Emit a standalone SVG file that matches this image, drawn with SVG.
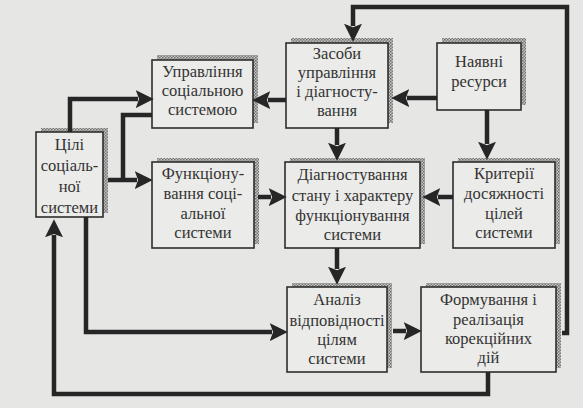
<svg xmlns="http://www.w3.org/2000/svg" width="583" height="408" viewBox="0 0 583 408">
<defs>
<pattern id="dots" width="3" height="3" patternUnits="userSpaceOnUse">
<rect width="3" height="3" fill="#c4c4c2"/>
<rect width="1.5" height="1.5" fill="#6e6e6e"/>
<rect x="1.5" y="1.5" width="1.5" height="1.5" fill="#7a7a7a"/>
</pattern>
<marker id="ah" markerUnits="userSpaceOnUse" markerWidth="18" markerHeight="18" viewBox="0 0 16 16" refX="2" refY="8" orient="auto">
<path d="M0,0 L16,8 L0,16 L3,8 z" fill="#262626"/>
</marker>
<style>
.sh{fill:url(#dots)}
.bx{fill:#ebebe9;stroke:#2e2e2e;stroke-width:1.6}
.t{font-family:"Liberation Serif","Times New Roman",serif;font-size:16.5px;fill:#333;text-anchor:middle}
.c{fill:none;stroke:#262626;stroke-width:4.5;stroke-linejoin:miter}
.a{marker-end:url(#ah)}
</style>
</defs>
<rect width="583" height="408" fill="#e6e6e4"/>

<g id="upravlinnia">
<rect class="sh" x="157" y="55" width="101" height="68"/>
<rect class="bx" x="152" y="60" width="101" height="68"/>
<text class="t" x="202.5" y="77">Управління</text>
<text class="t" x="202.5" y="96">соціальною</text>
<text class="t" x="202.5" y="115">системою</text>
</g>

<g id="zasoby">
<rect class="sh" x="291" y="38" width="102" height="85"/>
<rect class="bx" x="286" y="43" width="102" height="85"/>
<text class="t" x="337" y="59">Засоби</text>
<text class="t" x="337" y="78">управління</text>
<text class="t" x="337" y="97">і діагносту-</text>
<text class="t" x="337" y="116">вання</text>
</g>

<g id="naiavni">
<rect class="sh" x="442" y="38" width="84" height="67"/>
<rect class="bx" x="437" y="43" width="84" height="67"/>
<text class="t" x="479" y="67">Наявні</text>
<text class="t" x="479" y="87">ресурси</text>
</g>

<g id="tsili">
<rect class="sh" x="41" y="128" width="67" height="85"/>
<rect class="bx" x="36" y="132" width="67" height="85"/>
<text class="t" x="69.5" y="150">Цілі</text>
<text class="t" x="69.5" y="171">соціаль-</text>
<text class="t" x="69.5" y="192">ної</text>
<text class="t" x="69.5" y="213">системи</text>
</g>

<g id="funktsionuvannia">
<rect class="sh" x="157" y="158" width="102" height="86"/>
<rect class="bx" x="152" y="162" width="102" height="86"/>
<text class="t" x="203" y="179">Функціону-</text>
<text class="t" x="203" y="199">вання соці-</text>
<text class="t" x="203" y="219">альної</text>
<text class="t" x="203" y="238">системи</text>
</g>

<g id="diahnostuvannia">
<rect class="sh" x="290" y="158" width="135" height="86"/>
<rect class="bx" x="285" y="162" width="135" height="86"/>
<text class="t" x="352.5" y="180">Діагностування</text>
<text class="t" x="352.5" y="201">стану і характеру</text>
<text class="t" x="352.5" y="221">функціонування</text>
<text class="t" x="352.5" y="240">системи</text>
</g>

<g id="kryterii">
<rect class="sh" x="458" y="158" width="102" height="86"/>
<rect class="bx" x="453" y="162" width="102" height="86"/>
<text class="t" x="504" y="179">Критерії</text>
<text class="t" x="504" y="199">досяжності</text>
<text class="t" x="504" y="219">цілей</text>
<text class="t" x="504" y="238">системи</text>
</g>

<g id="analiz">
<rect class="sh" x="292" y="283" width="100" height="85"/>
<rect class="bx" x="287" y="287" width="100" height="85"/>
<text class="t" x="337" y="305">Аналіз</text>
<text class="t" x="337" y="326">відповідності</text>
<text class="t" x="337" y="345">цілям</text>
<text class="t" x="337" y="364">системи</text>
</g>

<g id="formuvannia">
<rect class="sh" x="426" y="283" width="135" height="85"/>
<rect class="bx" x="421" y="287" width="135" height="85"/>
<text class="t" x="488.5" y="305">Формування і</text>
<text class="t" x="488.5" y="325">реалізація</text>
<text class="t" x="488.5" y="344">корекційних</text>
<text class="t" x="488.5" y="363">дій</text>
</g>

<g id="connectors">
<path class="c a" d="M286,100 H268"/>
<path class="c a" d="M437,98 H407"/>
<path class="c a" d="M70,132 V99 H138"/>
<path class="c a" d="M108,180 H137"/>
<path class="c" d="M152,115 H123 V182"/>
<path class="c a" d="M258,197 H271"/>
<path class="c a" d="M337,128 V145"/>
<path class="c a" d="M487,110 V144"/>
<path class="c a" d="M453,197 H438"/>
<path class="c a" d="M337,248 V269"/>
<path class="c a" d="M86,217 V332 H272"/>
<path class="c a" d="M393,331 H406"/>
<path class="c a" d="M562,333 H567 V7 H353 V26"/>
<path class="c a" d="M488,372 V394 H54 V235"/>
</g>
</svg>
